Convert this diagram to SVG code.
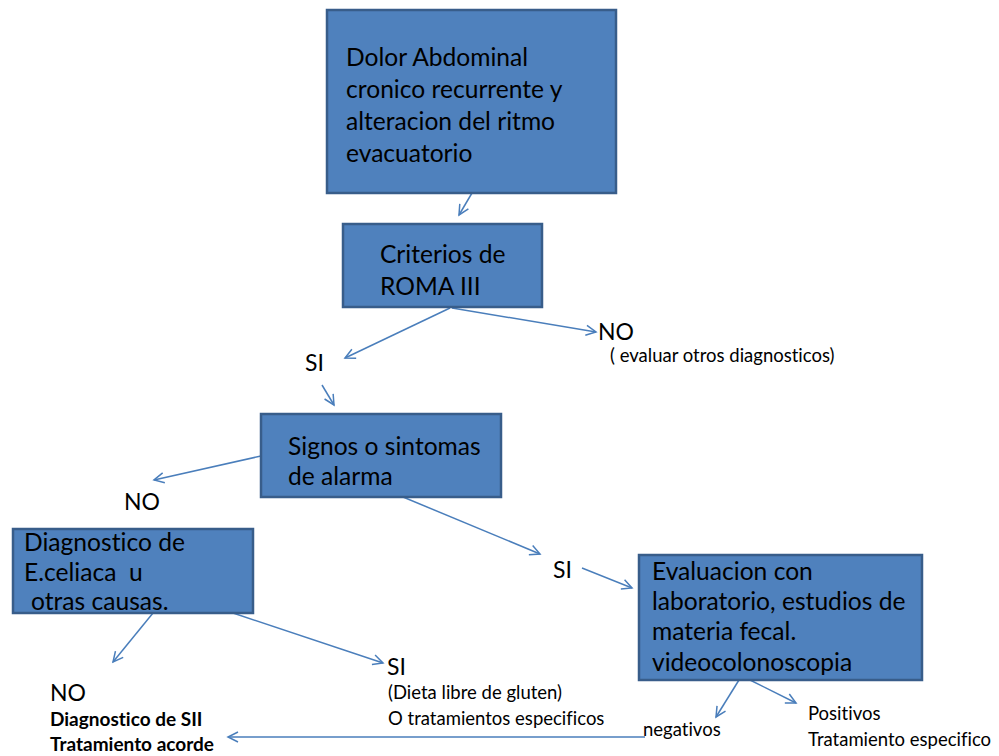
<svg xmlns="http://www.w3.org/2000/svg" width="999" height="756" viewBox="0 0 999 756">
<style>
text{font-family:Lato,"Open Sans","Liberation Sans",sans-serif;fill:#000;font-variant-ligatures:none;white-space:pre}
.box{fill:#4F81BD;stroke:#385D8A;stroke-width:2.5}
.bt{font-size:24.6px}
.lb{font-size:23px}
.sm{font-size:18.5px}
.bd{font-size:19px;font-weight:bold}
.cn{stroke:#4A7EBB;stroke-width:1.5;fill:none;marker-end:url(#ah)}
</style>
<defs>
<marker id="ah" markerUnits="userSpaceOnUse" markerWidth="14" markerHeight="14" refX="11" refY="6" orient="auto" viewBox="0 0 14 12">
<path d="M1,1 L11,6 L1,11" fill="none" stroke="#4A7EBB" stroke-width="1.5"/>
</marker>
</defs>
<rect width="999" height="756" fill="#fff"/>
<g id="connectors">
<line class="cn" x1="472" y1="193" x2="459" y2="215"/>
<line class="cn" x1="450" y1="308" x2="345" y2="358"/>
<line class="cn" x1="452" y1="308" x2="596" y2="332"/>
<line class="cn" x1="322" y1="385" x2="334" y2="405"/>
<line class="cn" x1="261" y1="456" x2="154" y2="480"/>
<line class="cn" x1="403" y1="497" x2="540" y2="554"/>
<line class="cn" x1="582" y1="568" x2="632" y2="588"/>
<line class="cn" x1="153" y1="613" x2="113" y2="662"/>
<line class="cn" x1="233" y1="613" x2="383" y2="663"/>
<line class="cn" x1="645" y1="737" x2="228" y2="737"/>
<line class="cn" x1="739" y1="680" x2="716" y2="717"/>
<line class="cn" x1="750" y1="680" x2="796" y2="703"/>
</g>
<g id="n1">
<rect class="box" x="327" y="10" width="289" height="183"/>
<text class="bt" x="346" y="66">Dolor Abdominal</text>
<text class="bt" x="346" y="98">cronico recurrente y</text>
<text class="bt" x="346" y="130">alteracion del ritmo</text>
<text class="bt" x="346" y="162">evacuatorio</text>
</g>
<g id="n2">
<rect class="box" x="343" y="224" width="199" height="83"/>
<text class="bt" x="380" y="263">Criterios de</text>
<text class="bt" x="380" y="295">ROMA III</text>
</g>
<g id="n3">
<rect class="box" x="261" y="414" width="240" height="83"/>
<text class="bt" x="288" y="455">Signos o sintomas</text>
<text class="bt" x="288" y="485">de alarma</text>
</g>
<g id="n4">
<rect class="box" x="13" y="529" width="240" height="84"/>
<text class="bt" x="24" y="551">Diagnostico de</text>
<text class="bt" x="24" y="581">E.celiaca  u</text>
<text class="bt" x="31" y="610">otras causas.</text>
</g>
<g id="n5">
<rect class="box" x="639" y="555" width="283" height="125"/>
<text class="bt" x="652" y="580">Evaluacion con</text>
<text class="bt" x="652" y="610">laboratorio, estudios de</text>
<text class="bt" x="652" y="640">materia fecal.</text>
<text class="bt" x="652" y="671">videocolonoscopia</text>
</g>
<g id="l-no1">
<text class="lb" x="598" y="340">NO</text>
<text class="sm" x="610" y="362">( evaluar otros diagnosticos)</text>
</g>
<g id="l-si1"><text class="lb" x="305" y="371">SI</text></g>
<g id="l-no2"><text class="lb" x="124" y="510">NO</text></g>
<g id="l-si2"><text class="lb" x="553" y="578">SI</text></g>
<g id="l-si3">
<text class="lb" x="387" y="675">SI</text>
<text class="sm" x="388" y="699">(Dieta libre de gluten)</text>
<text class="sm" x="388" y="725">O tratamientos especificos</text>
</g>
<g id="l-no3">
<text class="lb" x="50" y="701">NO</text>
<text class="bd" x="50" y="726">Diagnostico de SII</text>
<text class="bd" x="50" y="751">Tratamiento acorde</text>
</g>
<g id="l-neg"><text class="sm" x="643" y="736">negativos</text></g>
<g id="l-pos">
<text class="sm" x="808" y="720">Positivos</text>
<text class="sm" x="808" y="746">Tratamiento especifico</text>
</g>
</svg>
